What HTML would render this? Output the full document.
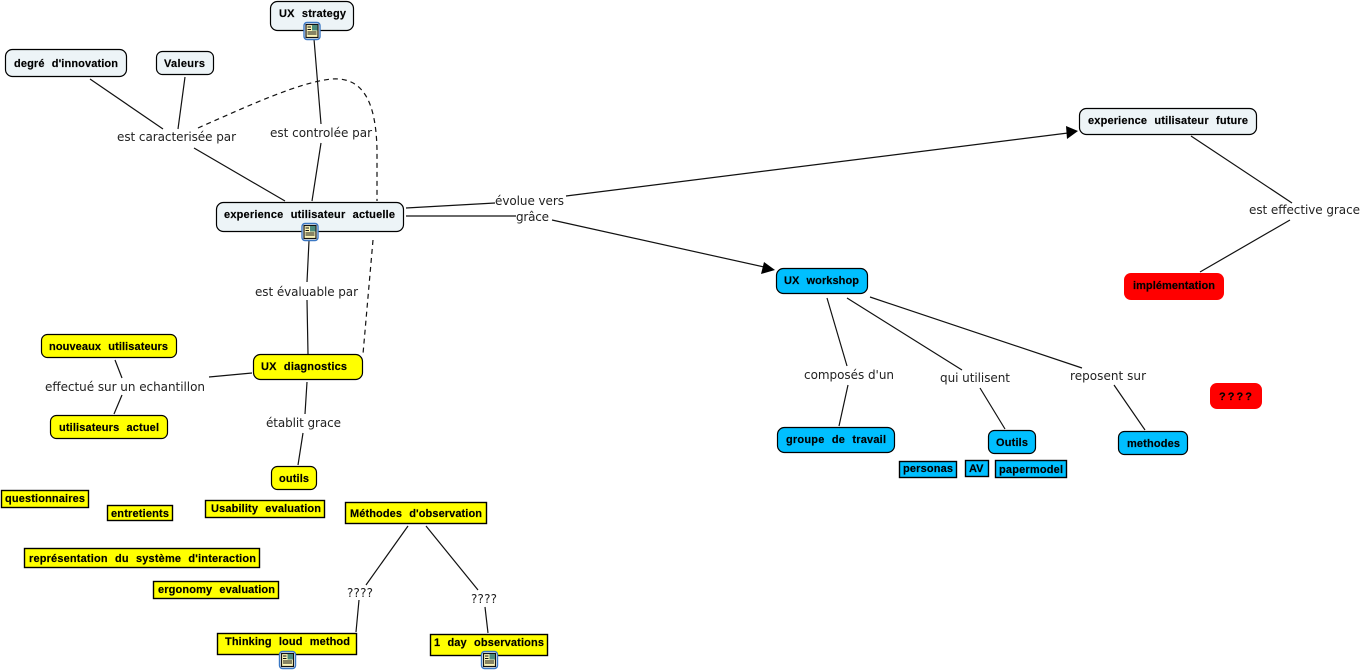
<!DOCTYPE html>
<html><head><meta charset="utf-8"><style>
html,body{margin:0;padding:0;background:#fff}
svg{display:block}
.n{font:bold 11px "Liberation Sans",sans-serif;fill:#000;word-spacing:4px;stroke:#000;stroke-width:.15px}
.l{font:12px "DejaVu Sans",sans-serif;fill:#222}
.c{stroke:#111;stroke-width:1.2;fill:none}
.b{stroke:#000;stroke-width:1.2}
</style></head><body>
<svg width="1363" height="672" viewBox="0 0 1363 672" xmlns="http://www.w3.org/2000/svg">
<defs>
<g id="ic">
<rect x=".5" y=".5" width="16" height="17" rx="3" fill="#fff" stroke="#3b78c4" stroke-width="1.4"/>
<rect x="2.500" y="2.500" width="12" height="13" fill="#fdf6b8" stroke="#111" stroke-width="1.200"/>
<rect x="8.500" y="3" width="5.500" height="5.500" fill="#4a8a7c"/>
<path d="M4 5h3.500M4 7.500h3.500M4 10h9M4 12h9" stroke="#111" stroke-width="1"/>
</g>
</defs>

<!-- connectors -->
<g class="c">
<path d="M90 79L163 129M185 77L178 129M194 148L285 201"/>
<path d="M314 39L321 124M321 143L312 201"/>
<path d="M406 208L495 203M406 216L516 216M566 196L1068 133M552 220L764 267"/>
<path d="M309 241L307 282M307 300L308 354"/>
<path d="M209 377L252 373M115 360L122 378M122 395L114 414"/>
<path d="M307 382L305 414M303 433L298 465"/>
<path d="M408 526L366 585M359 600L356 632M426 526L478 590M485 607L488 633"/>
<path d="M827 298L847 366M848 385L839 426M847 298L962 370M980 388L1005 429M870 297L1082 368M1114 385L1145 430"/>
<path d="M1191 136L1292 203M1290 220L1200 272"/>
<path d="M198 128C250 105 300 82 332 79C362 77 376 100 377 150L377 201M373 240L363 354" stroke-dasharray="5 4"/>
</g>
<path d="M1078 131L1066 126L1067 139Z" fill="#000"/>
<path d="M775 270L764 262L761 274Z" fill="#000"/>

<!-- rounded nodes -->
<g class="b">
<g fill="#edf4f7">
<rect x="270.500" y="1.500" width="83" height="29" rx="7"/>
<rect x="5.500" y="49.500" width="121" height="27" rx="7"/>
<rect x="156.500" y="51.500" width="57" height="23" rx="6"/>
<rect x="216.500" y="202.500" width="187" height="29" rx="7"/>
<rect x="1079.500" y="108.500" width="177" height="26" rx="7"/>
</g>
<g fill="#ffff00">
<rect x="253.500" y="354.500" width="109" height="25" rx="7"/>
<rect x="41.500" y="334.500" width="135" height="23" rx="6"/>
<rect x="50.500" y="415.500" width="117" height="23" rx="6"/>
<rect x="271.500" y="466.500" width="45" height="23" rx="6"/>
</g>
<g fill="#ffff00" stroke-width="1.400">
<rect x="1.500" y="490.500" width="87" height="17"/>
<rect x="107.500" y="505.500" width="65" height="15"/>
<rect x="205.500" y="500.500" width="119" height="17"/>
<rect x="345.500" y="502.500" width="141" height="21"/>
<rect x="24.500" y="548.500" width="235" height="19"/>
<rect x="153.500" y="581.500" width="125" height="17"/>
<rect x="217.500" y="633.500" width="139" height="21"/>
<rect x="430.500" y="634.500" width="117" height="21"/>
</g>
<g fill="#00bfff">
<rect x="776.500" y="268.500" width="91" height="25" rx="7"/>
<rect x="777.500" y="427.500" width="117" height="25" rx="7"/>
<rect x="988.500" y="430.500" width="47" height="23" rx="6"/>
<rect x="1118.500" y="431.500" width="69" height="23" rx="6"/>
</g>
<g fill="#00bfff" stroke-width="1.400">
<rect x="899.500" y="461.500" width="57" height="16"/>
<rect x="965.500" y="460.500" width="23" height="16"/>
<rect x="995.500" y="460.500" width="71" height="17"/>
</g>
</g>
<rect x="1124" y="273" width="100" height="27" rx="7" fill="#ff0000"/>
<rect x="1210" y="383" width="52" height="26" rx="7" fill="#ff0000"/>

<!-- icons -->
<use href="#ic" x="303.500" y="22"/>
<use href="#ic" x="301.500" y="223"/>
<use href="#ic" x="279" y="651"/>
<use href="#ic" x="481" y="651"/>

<!-- node text -->
<g class="n">
<text x="279" y="17" textLength="67">UX strategy</text>
<text x="14" y="67" textLength="104">degré d'innovation</text>
<text x="164" y="67" textLength="41">Valeurs</text>
<text x="224" y="218" textLength="171">experience utilisateur actuelle</text>
<text x="1088" y="124" textLength="160">experience utilisateur future</text>
<text x="261" y="370" textLength="86">UX diagnostics</text>
<text x="49" y="350" textLength="119">nouveaux utilisateurs</text>
<text x="59" y="431" textLength="100">utilisateurs actuel</text>
<text x="279" y="482" textLength="30">outils</text>
<text x="5" y="502" textLength="80">questionnaires</text>
<text x="111" y="517" textLength="58">entretients</text>
<text x="211" y="512" textLength="110">Usability evaluation</text>
<text x="350" y="517" textLength="132">Méthodes d'observation</text>
<text x="29" y="562" textLength="227">représentation du système d'interaction</text>
<text x="158" y="593" textLength="117">ergonomy evaluation</text>
<text x="225" y="645" textLength="125">Thinking loud method</text>
<text x="434" y="646" textLength="110">1 day observations</text>
<text x="784" y="284" textLength="75">UX workshop</text>
<text x="786" y="443" textLength="100">groupe de travail</text>
<text x="996" y="446" textLength="32">Outils</text>
<text x="1127" y="447" textLength="53">methodes</text>
<text x="903" y="472" textLength="50">personas</text>
<text x="969" y="472">AV</text>
<text x="999" y="473" textLength="64">papermodel</text>
<text x="1133" y="289" textLength="82">implémentation</text>
<text x="1219" y="400" textLength="33" style="word-spacing:1px">? ? ? ?</text>
</g>

<!-- connector labels -->
<g class="l">
<text x="117" y="141" textLength="119">est caracterisée par</text>
<text x="270" y="137" textLength="102">est controlée par</text>
<text x="495" y="205" textLength="69">évolue vers</text>
<text x="516" y="221" textLength="33">grâce</text>
<text x="255" y="296" textLength="103">est évaluable par</text>
<text x="45" y="391" textLength="160">effectué sur un echantillon</text>
<text x="266" y="427" textLength="75">établit grace</text>
<text x="347" y="597" textLength="26">????</text>
<text x="471" y="603" textLength="26">????</text>
<text x="804" y="379" textLength="90">composés d'un</text>
<text x="940" y="382" textLength="70">qui utilisent</text>
<text x="1070" y="380" textLength="76">reposent sur</text>
<text x="1249" y="214" textLength="111">est effective grace</text>
</g>
</svg>
</body></html>
